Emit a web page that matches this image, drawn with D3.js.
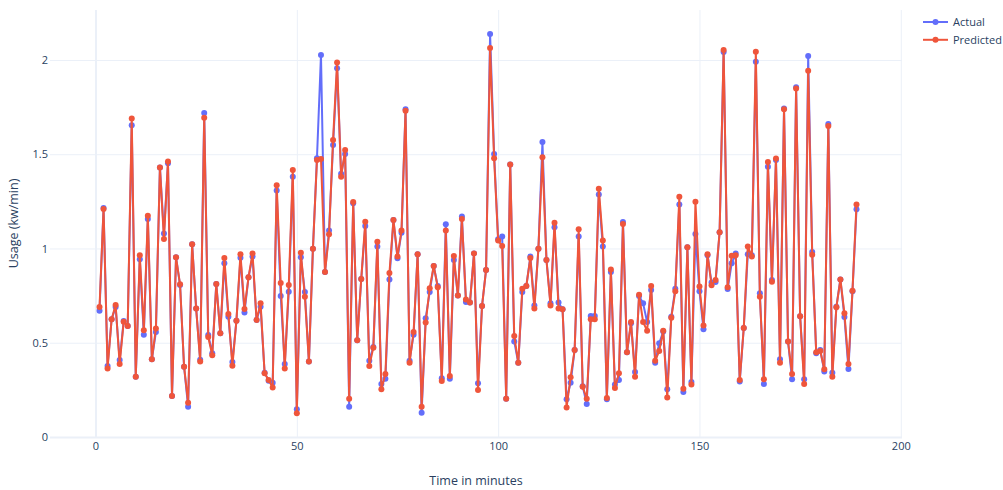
<!DOCTYPE html>
<html>
<head>
<meta charset="utf-8">
<script src="https://cdn.jsdelivr.net/npm/d3@7"></script>
<style>
  html, body { margin: 0; padding: 0; background: #fff; }
  svg { display: block; font-family: "Open Sans", verdana, arial, sans-serif; }
</style>
</head>
<body>
<svg id="chart" width="1003" height="490"></svg>
<script>
// Measured power usage per minute and the model's prediction
const actual = [
  0.670, 1.215, 0.377, 0.624, 0.690, 0.408, 0.615, 0.589, 1.653, 0.320,
  0.943, 0.543, 1.157, 0.412, 0.557, 1.430, 1.080, 1.452, 0.217, 0.953,
  0.806, 0.373, 0.161, 1.022, 0.681, 0.410, 1.719, 0.541, 0.444, 0.812,
  0.550, 0.921, 0.638, 0.398, 0.617, 0.951, 0.661, 0.847, 0.957, 0.621,
  0.691, 0.341, 0.299, 0.288, 1.307, 0.748, 0.387, 0.771, 1.381, 0.147,
  0.953, 0.769, 0.401, 0.999, 1.478, 2.026, 0.875, 1.095, 1.549, 1.956,
  1.397, 1.501, 0.161, 1.240, 0.513, 0.838, 1.119, 0.405, 0.477, 1.010,
  0.281, 0.309, 0.835, 1.151, 0.948, 1.084, 1.738, 0.405, 0.543, 0.969,
  0.129, 0.630, 0.769, 0.907, 0.801, 0.311, 1.128, 0.309, 0.939, 0.750,
  1.169, 0.716, 0.713, 0.974, 0.285, 0.695, 0.886, 2.138, 1.501, 1.049,
  1.063, 0.203, 1.445, 0.506, 0.394, 0.769, 0.801, 0.957, 0.698, 0.999,
  1.565, 0.939, 0.709, 1.112, 0.713, 0.677, 0.200, 0.288, 0.462, 1.063,
  0.269, 0.175, 0.642, 0.642, 1.286, 1.010, 0.200, 0.875, 0.278, 0.302,
  1.141, 0.449, 0.603, 0.345, 0.748, 0.709, 0.610, 0.780, 0.394, 0.497,
  0.559, 0.253, 0.638, 0.787, 1.233, 0.239, 1.006, 0.292, 1.077, 0.773,
  0.571, 0.964, 0.819, 0.822, 1.086, 2.042, 0.785, 0.921, 0.974, 0.294,
  0.578, 0.969, 0.964, 1.991, 0.762, 0.281, 1.434, 0.833, 1.469, 0.412,
  1.742, 0.506, 0.306, 1.855, 0.640, 0.306, 2.021, 0.981, 0.444, 0.462,
  0.348, 1.660, 0.341, 0.691, 0.836, 0.637, 0.361, 0.773, 1.208
];

const predicted = [
  0.690, 1.210, 0.364, 0.624, 0.700, 0.387, 0.612, 0.589, 1.689, 0.320,
  0.964, 0.566, 1.174, 0.412, 0.576, 1.430, 1.050, 1.462, 0.217, 0.953,
  0.810, 0.373, 0.182, 1.022, 0.681, 0.401, 1.694, 0.530, 0.433, 0.812,
  0.550, 0.950, 0.653, 0.378, 0.617, 0.969, 0.679, 0.847, 0.974, 0.621,
  0.709, 0.338, 0.302, 0.263, 1.335, 0.817, 0.364, 0.806, 1.416, 0.126,
  0.978, 0.744, 0.401, 0.999, 1.469, 1.475, 0.875, 1.075, 1.576, 1.986,
  1.381, 1.523, 0.203, 1.247, 0.513, 0.838, 1.142, 0.377, 0.474, 1.036,
  0.253, 0.334, 0.870, 1.151, 0.957, 1.095, 1.731, 0.394, 0.557, 0.969,
  0.161, 0.607, 0.789, 0.907, 0.794, 0.297, 1.095, 0.324, 0.960, 0.750,
  1.156, 0.730, 0.713, 0.974, 0.249, 0.695, 0.886, 2.064, 1.478, 1.042,
  1.013, 0.203, 1.445, 0.536, 0.394, 0.787, 0.801, 0.950, 0.681, 0.999,
  1.484, 0.939, 0.698, 1.137, 0.681, 0.677, 0.157, 0.317, 0.462, 1.102,
  0.267, 0.203, 0.624, 0.624, 1.317, 1.042, 0.207, 0.889, 0.260, 0.338,
  1.130, 0.449, 0.610, 0.320, 0.755, 0.610, 0.564, 0.801, 0.405, 0.456,
  0.564, 0.210, 0.633, 0.773, 1.275, 0.256, 1.006, 0.278, 1.248, 0.798,
  0.592, 0.969, 0.805, 0.833, 1.086, 2.053, 0.794, 0.962, 0.964, 0.302,
  0.578, 1.010, 0.957, 2.044, 0.744, 0.306, 1.459, 0.824, 1.477, 0.394,
  1.738, 0.506, 0.334, 1.848, 0.640, 0.281, 1.943, 0.967, 0.449, 0.456,
  0.359, 1.650, 0.320, 0.688, 0.836, 0.656, 0.387, 0.776, 1.233
];

// Minute index of each reading (1-based)
const minutes = actual.map((_, i) => i + 1);

const xTicks = [0, 50, 100, 150, 200];
const xTickLabels = ["0", "50", "100", "150", "200"];
const yTicks = [0, 0.5, 1, 1.5, 2];
const yTickLabels = ["0", "0.5", "1", "1.5", "2"];

const seriesNames = ["Actual", "Predicted"];
const seriesColors = ["#636efa", "#EF553B"];

const svg = d3.select("#chart");
const plot = { left: 50, right: 902, top: 10, bottom: 437 };
const textColor = "#2a3f5f";
const gridColor = "#ebf0f8";

const x = d3.scaleLinear().domain([-11.3, 200.3]).range([plot.left, plot.right]);
const y = d3.scaleLinear().domain([0, 2.265]).range([plot.bottom, plot.top]);

// Grid lines via axes with full-length ticks
const xGrid = svg.append("g")
  .attr("transform", `translate(0,${plot.bottom})`)
  .call(d3.axisBottom(x).tickValues(xTicks).tickSize(-(plot.bottom - plot.top)).tickFormat(""));
xGrid.select(".domain").remove();
xGrid.selectAll("line")
  .attr("stroke", gridColor)
  .attr("stroke-width", d => d === 0 ? 2 : 1);

const yGrid = svg.append("g")
  .attr("transform", `translate(${plot.left},0)`)
  .call(d3.axisLeft(y).tickValues(yTicks).tickSize(-(plot.right - plot.left)).tickFormat(""));
yGrid.select(".domain").remove();
yGrid.selectAll("line")
  .attr("stroke", gridColor)
  .attr("stroke-width", d => d === 0 ? 2 : 1);

// Tick labels
const xAxis = svg.append("g")
  .attr("transform", `translate(0,${plot.bottom})`)
  .call(d3.axisBottom(x).tickValues(xTicks).tickSize(0).tickPadding(5)
    .tickFormat((d, i) => xTickLabels[i]));
xAxis.select(".domain").remove();
xAxis.selectAll("text")
  .attr("fill", textColor)
  .style("font-size", "11px")
  .style("font-family", "\"Open Sans\", verdana, arial, sans-serif");

const yAxis = svg.append("g")
  .attr("transform", `translate(${plot.left},0)`)
  .call(d3.axisLeft(y).tickValues(yTicks).tickSize(0).tickPadding(2)
    .tickFormat((d, i) => yTickLabels[i]));
yAxis.select(".domain").remove();
yAxis.selectAll("text")
  .attr("fill", textColor)
  .style("font-size", "11px")
  .style("font-family", "\"Open Sans\", verdana, arial, sans-serif");

// Axis titles
svg.append("text")
  .attr("x", (plot.left + plot.right) / 2)
  .attr("y", 485)
  .attr("text-anchor", "middle")
  .attr("fill", textColor)
  .style("font-size", "12.5px")
  .text("Time in minutes");

svg.append("text")
  .attr("transform", `translate(18,${(plot.top + plot.bottom) / 2}) rotate(-90)`)
  .attr("text-anchor", "middle")
  .attr("fill", textColor)
  .style("font-size", "12.5px")
  .text("Usage (kw/min)");

// Series: line then markers, Actual first so Predicted sits on top
const line = d3.line().x((d, i) => x(minutes[i])).y(d => y(d));
const plotClip = svg.append("g");

[actual, predicted].forEach((values, k) => {
  const g = plotClip.append("g");
  g.append("path")
    .datum(values)
    .attr("d", line)
    .attr("fill", "none")
    .attr("stroke", seriesColors[k])
    .attr("stroke-width", 2)
    .attr("stroke-linejoin", "round");
  g.selectAll("circle")
    .data(values)
    .join("circle")
    .attr("cx", (d, i) => x(minutes[i]))
    .attr("cy", d => y(d))
    .attr("r", 3)
    .attr("fill", seriesColors[k]);
});

// Legend
const legend = svg.append("g");
seriesNames.forEach((name, k) => {
  const ly = 22 + k * 17.8;
  legend.append("line")
    .attr("x1", 923).attr("x2", 948)
    .attr("y1", ly).attr("y2", ly)
    .attr("stroke", seriesColors[k])
    .attr("stroke-width", 2);
  legend.append("circle")
    .attr("cx", 935.5).attr("cy", ly).attr("r", 3)
    .attr("fill", seriesColors[k]);
  legend.append("text")
    .attr("x", 953)
    .attr("y", ly + 4)
    .attr("fill", textColor)
    .style("font-size", "11px")
    .text(name);
});
</script>
</body>
</html>
